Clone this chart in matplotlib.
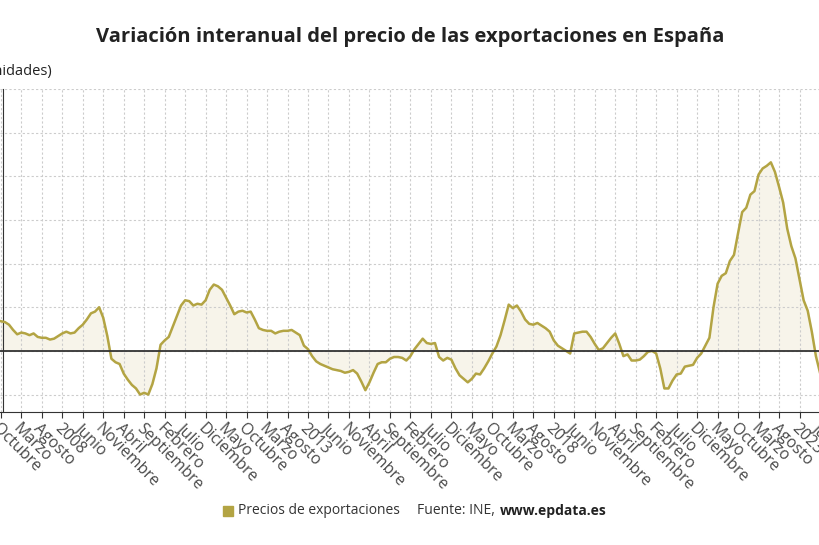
import numpy as np
import matplotlib
matplotlib.use("Agg")
import matplotlib.pyplot as plt

plt.rcParams['font.family'] = ['Open Sans', 'DejaVu Sans']

# months counted from January 2008 (first value = October 2006)
start_month = -15
values = [
    3.4, 3.3, 3.0, 2.4, 1.9, 2.1, 2.0, 1.8, 2.0, 1.6, 1.5, 1.5, 1.3, 1.4, 1.7,
    2.0, 2.2, 2.0, 2.1, 2.6, 3.0, 3.6, 4.3, 4.5, 5.0, 3.8, 1.7,
    -0.9, -1.3, -1.5, -2.6, -3.3, -3.9, -4.3, -5.0, -4.8, -5.0, -3.8, -2.0,
    0.7, 1.2, 1.6, 2.8, 4.0, 5.2, 5.8, 5.7, 5.2, 5.4, 5.3, 5.8,
    7.0, 7.6, 7.4, 7.0, 6.1, 5.2, 4.2, 4.5, 4.6, 4.4, 4.5, 3.6,
    2.6, 2.4, 2.3, 2.3, 2.0, 2.2, 2.3, 2.3, 2.4, 2.1, 1.8, 0.6,
    0.2, -0.6, -1.2, -1.5, -1.7, -1.9, -2.1, -2.2, -2.3, -2.5, -2.4, -2.2,
    -2.6, -3.5, -4.5, -3.6, -2.5, -1.5, -1.3, -1.3, -0.9, -0.7, -0.7, -0.8,
    -1.1, -0.6, 0.2, 0.8, 1.4, 0.9, 0.8, 0.9, -0.7, -1.1, -0.8, -1.0,
    -2.0, -2.8, -3.2, -3.6, -3.2, -2.6, -2.7, -2.0, -1.2, -0.3, 0.5, 1.8,
    3.5, 5.3, 4.9, 5.2, 4.5, 3.6, 3.1, 3.0, 3.2, 2.9, 2.6, 2.2,
    1.2, 0.6, 0.3, 0.0, -0.3, 2.0, 2.1, 2.2, 2.2, 1.6, 0.8, 0.1,
    0.3, 0.9, 1.5, 2.0, 0.8, -0.6, -0.4, -1.1, -1.1, -1.0, -0.6, -0.1,
    0.0, -0.3, -2.0, -4.3, -4.3, -3.4, -2.7, -2.6, -1.8, -1.7, -1.6, -0.8,
    -0.3, 0.6, 1.5, 5.0, 7.7, 8.6, 8.9, 10.3, 11.0, 13.5, 15.9, 16.4,
    17.9, 18.3, 20.2, 20.9, 21.2, 21.6, 20.5, 18.8, 17.0, 14.0, 12.0, 10.6,
    8.2, 5.8, 4.6, 2.2, -0.6, -2.5,
]
month_names = ["Enero", "Febrero", "Marzo", "Abril", "Mayo", "Junio", "Julio",
               "Agosto", "Septiembre", "Octubre", "Noviembre", "Diciembre"]

months = np.arange(start_month, start_month + len(values))
vals = np.array(values)

fig = plt.figure(figsize=(8.2, 5.45), dpi=100)
ax = fig.add_axes([0.0, 1 - 412 / 545, 1.0, (412 - 89) / 545])
line_col = '#b3a443'
ax.plot(months, vals, color=line_col, lw=1.8, zorder=3)
ax.fill_between(months, vals, 0, color='#f7f4ea', zorder=1)
ax.axhline(0, color='#333333', lw=1.3, zorder=4)

ax.set_xlim(-15.2, 184.2)
ax.set_ylim(-7, 30)
ax.set_yticks(np.arange(-5, 31, 5))
ax.tick_params(axis='y', labelleft=False, length=0)

ticks = np.arange(-15, 186, 5)
labels = []
for t in ticks:
    y, mo = divmod(int(t), 12)
    labels.append(str(2008 + y) if mo == 0 else month_names[mo])
ax.set_xticks(ticks)
ax.set_xticklabels(labels, rotation=-45, ha='left', va='top',
                   rotation_mode='anchor', fontsize=11.5, color='#4a4a4a')
ax.tick_params(axis='x', length=4, color='#333333', pad=2)

ax.grid(True, color='#cccccc', ls=(0, (2, 2)), lw=0.8)
for s in ['top', 'right']:
    ax.spines[s].set_visible(False)
ax.spines['bottom'].set_color('#333333')
ax.spines['left'].set_color('#333333')
ax.spines['left'].set_position(('data', -14.4))

fig.text(0.5, 1 - 37 / 545, 'Variación interanual del precio de las exportaciones en España',
         ha='center', va='center', fontsize=14.5, fontweight='bold', color='#222222')
fig.text(52 / 820, 1 - 72 / 545, '(unidades)', ha='right', va='center',
         fontsize=10.5, color='#222222')

fig.patches.append(plt.Rectangle((223 / 820, 1 - 516 / 545), 10 / 820, 10 / 545,
                                 transform=fig.transFigure, color=line_col))
fig.text(238 / 820, 1 - 511 / 545, 'Precios de exportaciones', ha='left', va='center',
         fontsize=10, color='#333333')
fig.text(417 / 820, 1 - 511 / 545, 'Fuente: INE, ', ha='left', va='center',
         fontsize=10, color='#333333')
fig.text(500 / 820, 1 - 511 / 545, 'www.epdata.es', ha='left', va='center',
         fontsize=10, fontweight='bold', color='#222222')

fig.savefig('out.png', dpi=100)
